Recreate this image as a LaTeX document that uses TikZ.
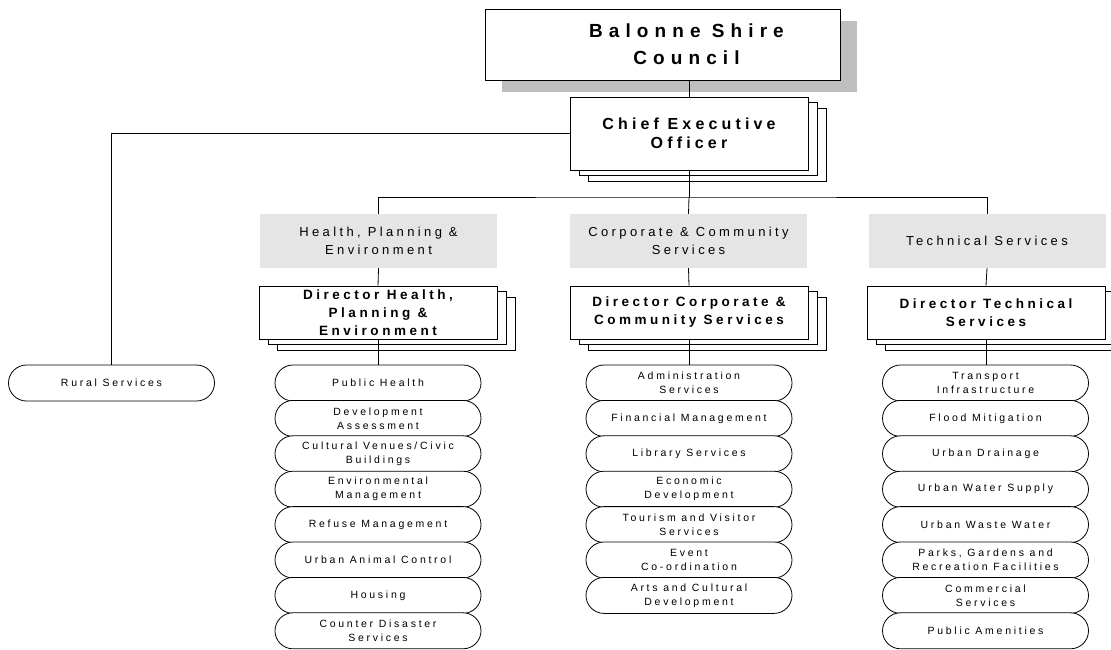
\documentclass[tikz,border=0pt]{standalone}
\usepackage{fontspec}
\setmainfont{Liberation Sans}
\newfontfamily\orgfont{Liberation Sans}[LetterSpace=26]
\newfontfamily\headfont{Liberation Sans}[LetterSpace=32]
\usetikzlibrary{shapes.misc}

\tikzset{
  stacked/.style={draw, fill=white, line width=0.9pt,
    preaction={draw, fill=white, transform canvas={shift={(18pt,-11pt)}}},
    preaction={draw, fill=white, transform canvas={shift={(9pt,-5.5pt)}}}},
  council/.style={draw, fill=white, line width=0.9pt, minimum width=355pt, minimum height=71pt,
    preaction={fill=black!25, draw=none, transform canvas={shift={(17pt,-12pt)}}}},
  ceo/.style={stacked, minimum width=238pt, minimum height=73pt, align=center,
    font=\orgfont\bfseries\fontsize{16}{19}\selectfont},
  division/.style={fill=black!10, minimum width=237pt, minimum height=54pt, align=center,
    font=\orgfont\fontsize{13}{17.5}\selectfont},
  director/.style={stacked, minimum width=238pt, minimum height=53pt, inner sep=1pt, align=center,
    font=\orgfont\bfseries\fontsize{13.5}{18}\selectfont},
  service/.style={rounded rectangle, draw, fill=white, line width=0.8pt, minimum width=208pt,
    minimum height=36pt, inner sep=1pt, align=center, font=\orgfont\fontsize{10.5}{14}\selectfont},
  link/.style={line width=0.8pt}
}

\begin{document}
\begin{tikzpicture}[x=1pt, y=-1pt]
	\useasboundingbox (0,0) rectangle (1111,649);

	\node[council, label={[align=center, xshift=24pt, font=\headfont\bfseries\fontsize{19}{27}\selectfont]center:Balonne Shire\\Council}] (council) at (662.5,44.5) {};
	\node[ceo] (ceo) at (689,133.5) {Chief Executive\\Officer};

	\node[division] (hpe) at (378.5,241) {Health, Planning \&\\Environment};
	\node[division] (ccs) at (688.5,241) {Corporate \& Community\\Services};
	\node[division] (ts) at (987,241) {Technical Services};

	\node[director] (dir-hpe) at (378,312.5) {Director Health,\\Planning \&\\Environment};
	\node[director] (dir-ccs) at (689,312.5) {Director Corporate \&\\Community Services};
	\node[director] (dir-ts) at (986,312.5) {Director Technical\\Services};

	\node[service] (rural) at (111.5,383) {Rural Services};

	\foreach \txt [count=\i] in {Public Health, {Development\\Assessment}, {Cultural Venues/Civic\\Buildings}, {Environmental\\Management}, Refuse Management, Urban Animal Control, Housing, {Counter Disaster\\Services}}
	\node[service] (hpe-\i) at (378,{383+35.4*(\i-1)}) {\txt};

	\foreach \txt [count=\i] in {{Administration\\Services}, Financial Management, Library Services, {Economic\\Development}, {Tourism and Visitor\\Services}, {Event\\Co-ordination}, {Arts and Cultural\\Development}}
	\node[service] (ccs-\i) at (689,{383+35.4*(\i-1)}) {\txt};

	\foreach \txt [count=\i] in {{Transport\\Infrastructure}, Flood Mitigation, Urban Drainage, Urban Water Supply, Urban Waste Water, {Parks, Gardens and\\Recreation Facilities}, {Commercial\\Services}, Public Amenities}
	\node[service] (ts-\i) at (985.5,{383+35.4*(\i-1)}) {\txt};

	\coordinate (split) at (689,197);
	\draw[link] (ceo.north |- council.south) -- (ceo.north);
	\draw[link] (ceo.south) -- (split);
	\draw[link] (hpe.north) |- (split) -| (ts.north);
	\draw[link] (split) -- (ccs.north);
	\draw[link] (ceo.west) -| (rural.north);
	\draw[link] (hpe.south) -- (dir-hpe.north);
	\draw[link] (ccs.south) -- (dir-ccs.north);
	\draw[link] (ts.south) -- (dir-ts.north);
	\draw[link] (dir-hpe.south) -- (hpe-1.north);
	\draw[link] (dir-ccs.south) -- (ccs-1.north);
	\draw[link] (dir-ts.south) -- (dir-ts.south |- ts-1.north);
\end{tikzpicture}
\end{document}
